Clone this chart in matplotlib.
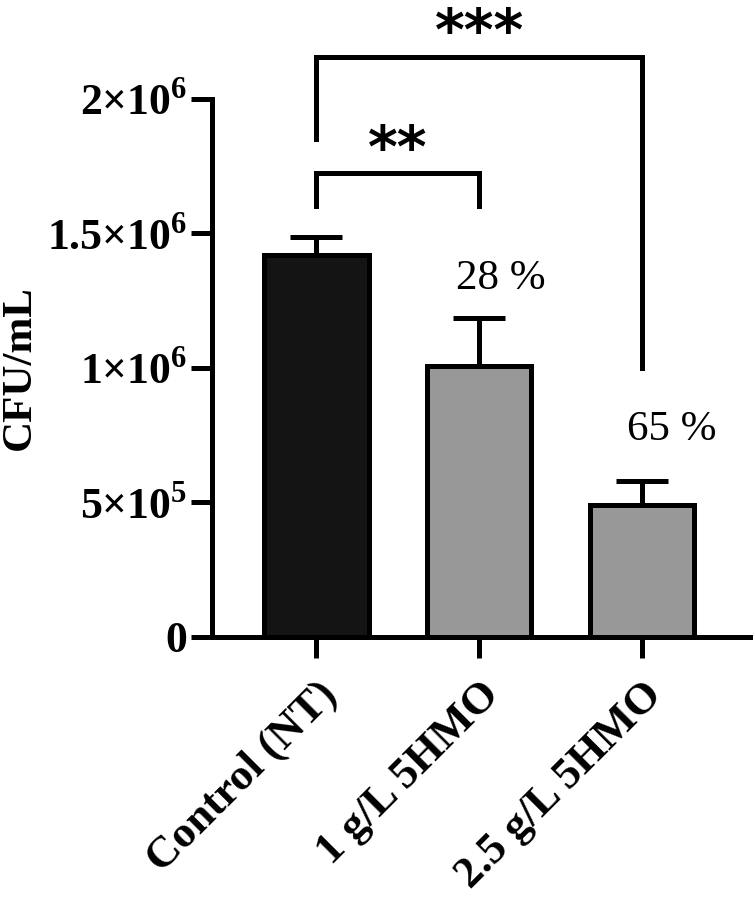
import matplotlib
matplotlib.use("Agg")
import matplotlib.pyplot as plt
import numpy as np

categories = ["Control (NT)", "1 g/L 5HMO", "2.5 g/L 5HMO"]
means = [1.42e6, 1.005e6, 0.49e6]
errors = [0.065e6, 0.18e6, 0.088e6]
colors = ["#141414", "#989898", "#989898"]
pct_labels = ["", "28 %", "65 %"]
yticks = [0, 5e5, 1e6, 1.5e6, 2e6]
ytick_labels = ["0", "5×10$^{\\mathbf{5}}$", "1×10$^{\\mathbf{6}}$", "1.5×10$^{\\mathbf{6}}$", "2×10$^{\\mathbf{6}}$"]

plt.rcParams['font.family'] = ['Liberation Serif', 'DejaVu Serif']
plt.rcParams['mathtext.fontset'] = 'custom'
plt.rcParams['mathtext.rm'] = 'Liberation Serif'
plt.rcParams['mathtext.bf'] = 'Liberation Serif:bold'

fig = plt.figure(figsize=(7.55, 8.98), dpi=100)
ax = fig.add_axes([0.281, 0.291, 0.712, 0.599])

x = np.arange(len(categories))
lw = 3.6
ax.bar(x, means, width=0.64, color=colors, edgecolor="black", linewidth=lw, zorder=3)
ax.errorbar(x, means, yerr=[np.zeros(len(means)), errors], fmt='none', ecolor='black',
            elinewidth=lw, capsize=19, capthick=lw, zorder=2)

ax.set_xlim(-0.64, 2.66)
ax.set_ylim(0, 2e6)
ax.set_yticks(yticks)
ax.set_yticklabels(ytick_labels, fontsize=31.5, fontweight='bold')
ax.set_xticks(x)
ax.set_xticklabels(categories, fontsize=32, fontweight='bold', rotation=45,
                   ha='right', rotation_mode='anchor')
ax.tick_params(axis='both', width=lw, length=15, direction='out')
ax.tick_params(axis='y', pad=3)
ax.tick_params(axis='x', pad=12)
for s in ['top', 'right']:
    ax.spines[s].set_visible(False)
for s in ['left', 'bottom']:
    ax.spines[s].set_linewidth(lw)
ax.set_ylabel("CFU/mL", fontsize=31, fontweight='bold', labelpad=6)

# percentage labels
pct_dx = [0, 0.13, 0.18]
pct_dy = [0, 0.145e6, 0.19e6]
for xi, m, e, t, dx, dy in zip(x, means, errors, pct_labels, pct_dx, pct_dy):
    if t:
        ax.text(xi + dx, m + e + dy, t, ha='center', va='center', fontsize=31)

# significance brackets
ax.plot([0, 0, 1, 1], [1.60e6, 1.725e6, 1.725e6, 1.60e6], color='black', lw=lw,
        clip_on=False, solid_joinstyle='miter')
ax.text(0.5, 1.745e6, "**", ha='center', va='baseline', fontsize=41, fontweight='bold',
        family='DejaVu Sans')
ax.plot([0, 0, 2, 2], [1.85e6, 2.155e6, 2.155e6, 1.0e6], color='black', lw=lw,
        clip_on=False, solid_joinstyle='miter')
ax.text(1.0, 2.18e6, "***", ha='center', va='baseline', fontsize=41, fontweight='bold',
        family='DejaVu Sans', clip_on=False)

fig.savefig("out.png", dpi=100)
